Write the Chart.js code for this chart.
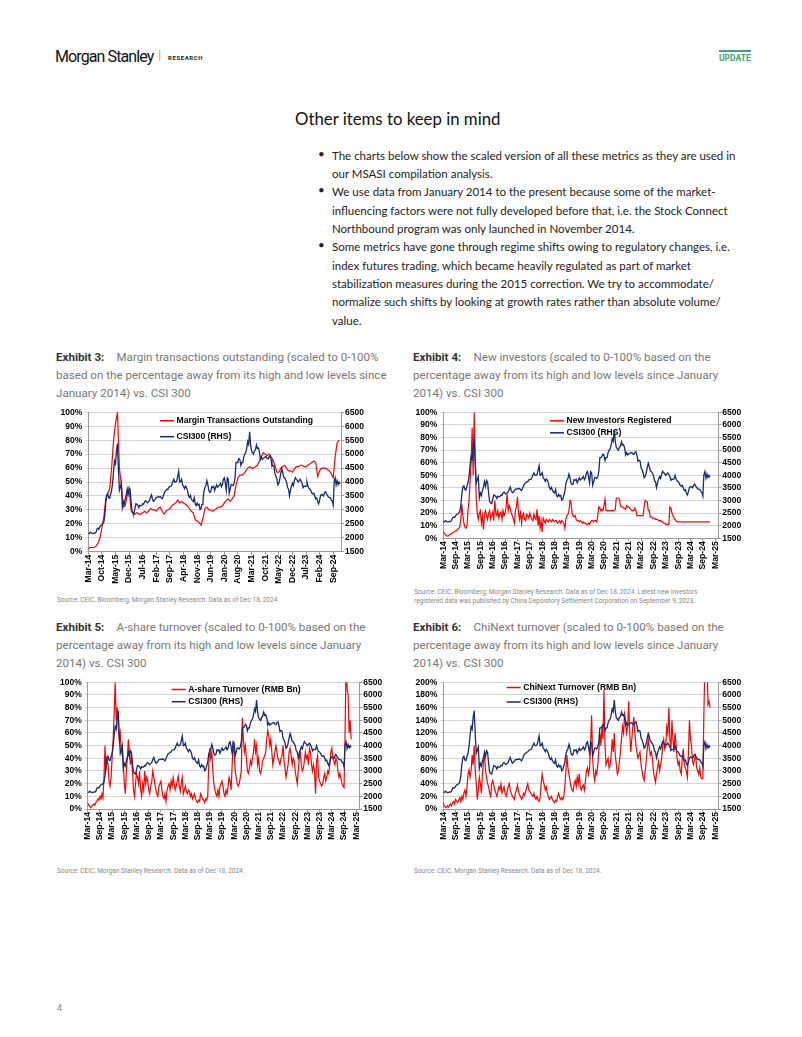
<!DOCTYPE html>
<html>
<head>
<meta charset="utf-8">
<script src="https://cdn.jsdelivr.net/npm/chart.js@4.4.1/dist/chart.umd.min.js"></script>
<style>
  html, body { margin: 0; padding: 0; background: #fff; }
  .page { position: relative; width: 802px; height: 1037px; overflow: hidden; font-family: Roboto, sans-serif; }
  .abs { position: absolute; white-space: nowrap; }
  .brand { left: 55px; top: 47px; font-size: 16px; color: #111; letter-spacing: -0.9px; }
  .sep { left: 158px; top: 47px; font-size: 13px; color: #aaa; }
  .research { left: 168px; top: 54px; font-size: 6px; font-weight: bold; letter-spacing: 0.6px; color: #222; }
  .update { left: 719px; top: 50px; font-size: 8.5px; font-weight: bold; color: #3ba57b; border-top: 2px solid #3ba57b; padding-top: 1px; }
  .title { left: 295px; top: 108px; font-family: Lato, sans-serif; font-size: 16.8px; color: #111; }
  .bullets { left: 332px; top: 146.5px; font-family: Lato, sans-serif; font-size: 11.5px; line-height: 18.35px; color: #222; }
  .dot { left: 318px; font-family: Lato, sans-serif; font-size: 11.5px; color: #222; }
  .ex { font-size: 11.6px; line-height: 18.2px; color: #777; }
  .ex b { display: inline-block; width: 60.5px; color: #333; }
  .src { font-size: 6.5px; color: #888; line-height: 8.5px; }
  canvas { position: absolute; }
</style>
</head>
<body>
<div class="page">
  <div class="abs brand">Morgan Stanley</div>
  <div class="abs sep">|</div>
  <div class="abs research">RESEARCH</div>
  <div class="abs update">UPDATE</div>

  <div class="abs title">Other items to keep in mind</div>
  <div class="abs dot" style="top:146.5px">•</div>
  <div class="abs dot" style="top:183.2px">•</div>
  <div class="abs dot" style="top:238.2px">•</div>
  <div class="abs bullets">
    The charts below show the scaled version of all these metrics as they are used in<br>
    our MSASI compilation analysis.<br>
    We use data from January 2014 to the present because some of the market-<br>
    influencing factors were not fully developed before that, i.e. the Stock Connect<br>
    Northbound program was only launched in November 2014.<br>
    Some metrics have gone through regime shifts owing to regulatory changes, i.e.<br>
    index futures trading, which became heavily regulated as part of market<br>
    stabilization measures during the 2015 correction. We try to accommodate/<br>
    normalize such shifts by looking at growth rates rather than absolute volume/<br>
    value.
  </div>

  <div class="abs ex" style="left:56px; top:348px"><b>Exhibit 3:</b>Margin transactions outstanding (scaled to 0-100%<br>based on the percentage away from its high and low levels since<br>January 2014) vs. CSI 300</div>
  <div class="abs ex" style="left:413px; top:348px"><b>Exhibit 4:</b>New investors (scaled to 0-100% based on the<br>percentage away from its high and low levels since January<br>2014) vs. CSI 300</div>
  <div class="abs ex" style="left:56px; top:618px"><b>Exhibit 5:</b>A-share turnover (scaled to 0-100% based on the<br>percentage away from its high and low levels since January<br>2014) vs. CSI 300</div>
  <div class="abs ex" style="left:413px; top:618px"><b>Exhibit 6:</b>ChiNext turnover (scaled to 0-100% based on the<br>percentage away from its high and low levels since January<br>2014) vs. CSI 300</div>

  <canvas id="marginChart" width="312" height="184" style="left:55px; top:404px"></canvas>
  <canvas id="investorChart" width="336" height="170" style="left:410px; top:404px"></canvas>
  <canvas id="ashareChart" width="330" height="172" style="left:55px; top:674px"></canvas>
  <canvas id="chinextChart" width="336" height="172" style="left:410px; top:674px"></canvas>

  <div class="abs src" style="left:57px; top:596px">Source: CEIC, Bloomberg, Morgan Stanley Research. Data as of Dec 18, 2024</div>
  <div class="abs src" style="left:414px; top:588px">Source: CEIC, Bloomberg, Morgan Stanley Research. Data as of Dec 18, 2024. Latest new investors<br>registered data was published by China Depository Settlement Corporation on September 9, 2023.</div>
  <div class="abs src" style="left:57px; top:867px">Source: CEIC, Morgan Stanley Research. Data as of Dec 18, 2024.</div>
  <div class="abs src" style="left:414px; top:867px">Source: CEIC, Morgan Stanley Research. Data as of Dec 18, 2024.</div>

  <div class="abs" style="left:57px; top:1003px; font-size:9px; color:#888">4</div>
</div>

<script>
// x axis tick labels (month 0 = Mar-14)
const labels7m = ['Mar-14','Oct-14','May-15','Dec-15','Jul-16','Feb-17','Sep-17','Apr-18','Nov-18','Jun-19',
  'Jan-20','Aug-20','Mar-21','Oct-21','May-22','Dec-22','Jul-23','Feb-24','Sep-24'];
const labels6m = ['Mar-14','Sep-14','Mar-15','Sep-15','Mar-16','Sep-16','Mar-17','Sep-17','Mar-18','Sep-18',
  'Mar-19','Sep-19','Mar-20','Sep-20','Mar-21','Sep-21','Mar-22','Sep-22','Mar-23','Sep-23','Mar-24','Sep-24','Mar-25'];

// CSI300 index level, two readings per month, Mar-14 .. Dec-24
const csi300 = [
  2170,2150, 2200,2170, 2150,2160, 2170,2165, 2200,2320, 2340,2330, 2400,2450, 2460,2510, 2560,2810, 3250,3530,
  3580,3430, 3420,3570, 3700,3970, 4400,4750, 4650,5120, 5380,4470, 3700,3820, 3950,3100, 3300,3200, 3400,3530, 3750,3570, 3800,3730,
  3300,2950, 2900,2880, 3050,3220, 3200,3160, 3080,3170, 3150,3150, 3220,3200, 3300,3330, 3280,3250, 3300,3340, 3450,3540, 3400,3310,
  3330,3390, 3450,3450, 3470,3460, 3480,3440, 3400,3490, 3590,3670, 3700,3740, 3750,3820, 3830,3840, 3900,4010, 4100,4000, 4000,4030,
  4200,4380, 4000,4020, 4100,3900, 3850,3760, 3850,3800, 3700,3510, 3450,3520, 3400,3330, 3300,3440, 3200,3150, 3250,3170, 3200,3010,
  3050,3200, 3350,3670, 3800,3870, 4050,3910, 3700,3630, 3650,3830, 3800,3840, 3700,3800, 3900,3810, 3850,3890, 3950,3830, 3900,4100,
  4150,3950, 3700,4150, 4100,3600, 3750,3910, 3900,3870, 3950,4160, 4700,4700, 4750,4840, 4800,4590, 4700,4700, 4900,5000, 5050,5210,
  5450,5350, 5800,5340, 5100,5050, 5000,5120, 5150,5330, 5200,5220, 5100,4810, 4900,4810, 4850,4870, 4900,4910, 4850,4830, 4900,4940,
  4800,4560, 4600,4580, 4300,4220, 4100,3900, 3950,4090, 4300,4480, 4350,4170, 4150,4080, 4000,3800, 3750,3510, 3700,3850, 3950,3870,
  4050,4160, 4100,4060, 4000,4050, 4100,4030, 3950,3800, 3850,3840, 3850,4000, 3850,3770, 3750,3690, 3600,3570, 3600,3500, 3400,3430,
  3300,3220, 3350,3520, 3550,3540, 3500,3600, 3650,3580, 3520,3460, 3450,3440, 3350,3320, 3170,4020, 4150,3890, 4050,3910, 4000,3930
];

// Margin transactions outstanding, scaled %, monthly Mar-14 .. Dec-24
const marginPct = [
  2,3,3,3,4,6,10,17,25,38,
  42,45,60,80,92,100,60,48,32,33,40,44,
  30,27,27,28,27,27,28,29,28,29,31,30,
  30,29,31,32,29,27,29,30,31,33,34,35,
  37,35,36,35,34,33,31,29,28,23,22,21,
  19,24,31,32,30,30,29,30,31,32,32,33,
  35,37,38,36,38,40,48,53,55,55,56,58,
  60,61,60,60,61,62,65,68,71,70,69,70,
  68,66,62,57,57,60,61,62,60,58,58,57,
  59,61,61,62,62,61,61,62,63,64,65,64,
  54,58,60,60,60,59,58,56,53,68,78,80
];

// New investors registered, scaled %, two readings per month
const investorsPct = [
  5,4, 3,2, 2,2, 3,3, 4,4, 5,5, 6,6, 7,8, 9,15, 27,18,
  12,9, 8,10, 22,30, 45,60, 88,50, 100,65, 31,20, 15,20, 22,12, 18,7, 20,22, 18,15,
  20,22, 15,18, 21,14, 30,20, 18,22, 16,20, 21,15, 22,18, 20,25, 35,22, 26,24, 20,18,
  15,12, 22,25, 33,20, 15,22, 12,18, 20,15, 14,19, 18,16, 20,17, 15,14, 19,16, 15,23,
  10,18, 8,14, 5,16, 14,12, 15,14, 13,15, 14,13, 15,14, 13,14, 14,12, 13,14, 12,14,
  13,12, 8,15, 18,19, 22,30, 29,20, 18,17, 18,15, 14,14, 13,14, 13,12, 13,12, 12,11,
  11,12, 11,13, 14,14, 13,14, 14,13, 18,25, 24,22, 23,22, 26,31, 22,22, 22,22, 22,22,
  22,22, 22,23, 32,32, 32,31, 26,25, 25,24, 24,23, 26,25, 25,24, 23,22, 22,22, 24,22,
  18,18, 18,18, 18,18, 18,25, 30,29, 29,22, 22,17, 17,16, 16,16, 15,15, 15,14, 14,14,
  13,13, 12,12, 11,11, 11,11, 25,24, 20,18, 16,15, 14,13, 13,13, 13,13, 13,13, 13,13,
  13,13, 13,13, 13,13, 13,13, 13,13, 13,13, 13,13, 13,13, 13,13, 13,13, 13,13, 13,13
];

// A-share turnover, scaled %, two readings per month
const ashareTurnoverPct = [
  5,3, 2,1, 2,3, 4,3, 5,6, 8,7, 10,8, 12,9, 25,50, 30,40,
  35,22, 18,25, 40,55, 75,100, 70,80, 65,55, 60,45, 50,35, 20,12, 30,40, 55,45, 35,42,
  30,15, 10,20, 28,25, 20,30, 15,10, 20,15, 30,20, 25,22, 15,12, 18,22, 30,25, 20,15,
  12,10, 18,20, 22,15, 10,8, 12,6, 15,18, 20,15, 22,18, 25,20, 15,18, 22,26, 18,14,
  20,25, 12,15, 18,14, 12,15, 14,10, 12,8, 10,12, 8,6, 5,7, 6,12, 10,8, 7,5,
  8,7, 10,35, 48,40, 45,30, 20,15, 12,10, 15,10, 18,20, 22,18, 12,10, 15,12, 18,25,
  22,15, 35,50, 45,30, 25,20, 18,20, 25,30, 72,55, 45,50, 40,30, 28,32, 38,35, 40,45,
  55,45, 50,35, 40,30, 28,32, 38,40, 42,45, 55,62, 58,50, 55,45, 35,40, 45,50, 45,40,
  38,35, 40,42, 50,38, 32,25, 30,35, 45,48, 42,35, 40,38, 30,25, 20,30, 40,45, 35,30,
  32,38, 45,40, 42,35, 48,45, 35,30, 35,30, 12,38, 42,25, 22,20, 18,20, 25,28, 22,25,
  30,28, 35,45, 48,40, 38,35, 40,38, 30,25, 28,24, 20,18, 17,60, 115,95, 90,60, 70,55
];

// ChiNext turnover, scaled % (0-200), two readings per month
const chinextTurnoverPct = [
  10,5, 3,2, 5,3, 6,8, 5,10, 12,8, 15,12, 10,14, 18,12, 20,15,
  25,30, 20,35, 55,62, 50,60, 85,70, 100,60, 40,15, 30,50, 40,25, 55,75, 85,60, 50,40,
  35,25, 20,40, 45,38, 30,25, 20,28, 35,30, 40,25, 30,35, 25,20, 28,35, 40,30, 25,20,
  18,15, 25,30, 38,28, 22,20, 15,18, 25,22, 28,35, 40,30, 28,25, 22,20, 25,18, 15,20,
  15,12, 18,40, 55,45, 38,30, 35,25, 20,15, 18,20, 15,12, 10,14, 12,20, 25,18, 15,18,
  15,20, 35,60, 85,65, 55,45, 35,30, 28,40, 45,35, 50,40, 55,35, 30,35, 38,30, 45,60,
  65,55, 65,100, 148,80, 55,45, 60,55, 70,90, 120,100, 130,110, 188,100, 70,75, 80,65, 70,85,
  110,90, 120,85, 70,55, 60,75, 90,110, 130,120, 150,140, 120,130, 170,120, 90,110, 130,145, 120,100,
  90,80, 85,90, 70,60, 50,45, 60,75, 95,110, 95,85, 90,80, 60,50, 42,55, 65,75, 60,70,
  80,100, 110,95, 100,130, 120,160, 110,95, 140,110, 90,120, 100,80, 70,75, 60,55, 80,95, 70,65,
  60,50, 90,140, 110,100, 75,70, 80,85, 65,60, 55,65, 50,48, 48,150, 230,210, 240,165, 170,160
];

const RED = '#ff0000';
const NAVY = '#1b2a6b';
const Y_FONT = { family: 'Liberation Sans, Arial, sans-serif', size: 8.5, weight: 'bold' };
const X_FONT = { family: 'Liberation Sans, Arial, sans-serif', size: 8.6, weight: 'bold' };

// legend drawn inside the plot area, under the lines
const insideLegend = {
    id: 'insideLegend',
    beforeDatasetsDraw(chart, args, opts) {
        const ctx = chart.ctx;
        ctx.save();
        ctx.font = 'bold 8.6px "Liberation Sans", Arial, sans-serif';
        ctx.textBaseline = 'middle';
        chart.data.datasets.forEach((ds, i) => {
            const y = opts.y + i * opts.gap;
            ctx.strokeStyle = ds.borderColor;
            ctx.lineWidth = 1.5;
            ctx.beginPath();
            ctx.moveTo(opts.x, y);
            ctx.lineTo(opts.x + 14, y);
            ctx.stroke();
            ctx.fillStyle = '#000';
            ctx.fillText(ds.label, opts.x + 16.5, y);
        });
        ctx.restore();
    }
};

function toPoints(values, step) {
    return values.map((v, i) => ({ x: i * step, y: v }));
}

function drawChart(id, s) {
    const ctx = document.getElementById(id).getContext('2d');
    new Chart(ctx, {
        type: 'line',
        data: {
            datasets: [{
                label: s.label,
                data: toPoints(s.values, s.step),
                yAxisID: 'y',
                borderColor: RED,
                borderWidth: 1.2,
                pointRadius: 0,
                order: 1
            }, {
                label: 'CSI300 (RHS)',
                data: toPoints(csi300, 0.5),
                yAxisID: 'y1',
                borderColor: NAVY,
                borderWidth: 1.3,
                pointRadius: 0,
                order: 0
            }]
        },
        options: {
            responsive: false,
            animation: false,
            devicePixelRatio: 1,
            layout: { padding: { top: 8.3, left: 0, right: 0, bottom: 0 } },
            plugins: {
                legend: { display: false },
                tooltip: { enabled: false },
                insideLegend: s.legend
            },
            scales: {
                x: {
                    type: 'linear',
                    min: 0,
                    max: s.xMax,
                    afterBuildTicks: function(scale) {
                        scale.ticks = s.xLabels.map((l, i) => ({ value: i * s.xStep }));
                    },
                    afterFit: function(scale) { scale.height = s.box.bottom; },
                    grid: { drawOnChartArea: false, tickLength: 3, color: '#999' },
                    border: { color: '#999' },
                    ticks: {
                        autoSkip: false,
                        maxRotation: 90,
                        minRotation: 90,
                        padding: 0,
                        color: '#000',
                        font: X_FONT,
                        callback: function(value, index) { return s.xLabels[index]; }
                    }
                },
                y: {
                    position: 'left',
                    min: 0,
                    max: s.yMax,
                    afterFit: function(scale) { scale.width = s.box.left; },
                    grid: { color: '#d4d4d4', tickLength: 3 },
                    border: { color: '#999' },
                    ticks: {
                        stepSize: s.yStep,
                        autoSkip: false,
                        padding: 3,
                        color: '#000',
                        font: Y_FONT,
                        callback: function(value) { return value + '%'; }
                    }
                },
                y1: {
                    position: 'right',
                    min: 1500,
                    max: 6500,
                    afterFit: function(scale) { scale.width = s.box.right; },
                    grid: { drawOnChartArea: false, tickLength: 3, color: '#999' },
                    border: { color: '#999' },
                    ticks: {
                        stepSize: 500,
                        autoSkip: false,
                        padding: 1,
                        color: '#000',
                        font: Y_FONT,
                        callback: function(value) { return String(value); }
                    }
                }
            }
        },
        plugins: [insideLegend]
    });
}

document.addEventListener('DOMContentLoaded', function() {
    drawChart('marginChart', {
        label: 'Margin Transactions Outstanding', values: marginPct, step: 1,
        yMax: 100, yStep: 10, xLabels: labels7m, xStep: 7, xMax: 130,
        box: { left: 33.3, right: 26, bottom: 36.3 },
        legend: { x: 105, y: 16.7, gap: 16 }
    });
    drawChart('investorChart', {
        label: 'New Investors Registered', values: investorsPct, step: 0.5,
        yMax: 100, yStep: 10, xLabels: labels6m, xStep: 6, xMax: 133.5,
        box: { left: 33.3, right: 27.7, bottom: 35.7 },
        legend: { x: 140, y: 16.8, gap: 12 }
    });
    drawChart('ashareChart', {
        label: 'A-share Turnover (RMB Bn)', values: ashareTurnoverPct, step: 0.5,
        yMax: 100, yStep: 10, xLabels: labels6m, xStep: 6, xMax: 133.5,
        box: { left: 32.7, right: 25.7, bottom: 37 },
        legend: { x: 116.7, y: 15.5, gap: 12.2 }
    });
    drawChart('chinextChart', {
        label: 'ChiNext Turnover (RMB Bn)', values: chinextTurnoverPct, step: 0.5,
        yMax: 200, yStep: 20, xLabels: labels6m, xStep: 6, xMax: 133.5,
        box: { left: 33.3, right: 27.7, bottom: 37 },
        legend: { x: 96.7, y: 13.5, gap: 14.5 }
    });
});
</script>
</body>
</html>
